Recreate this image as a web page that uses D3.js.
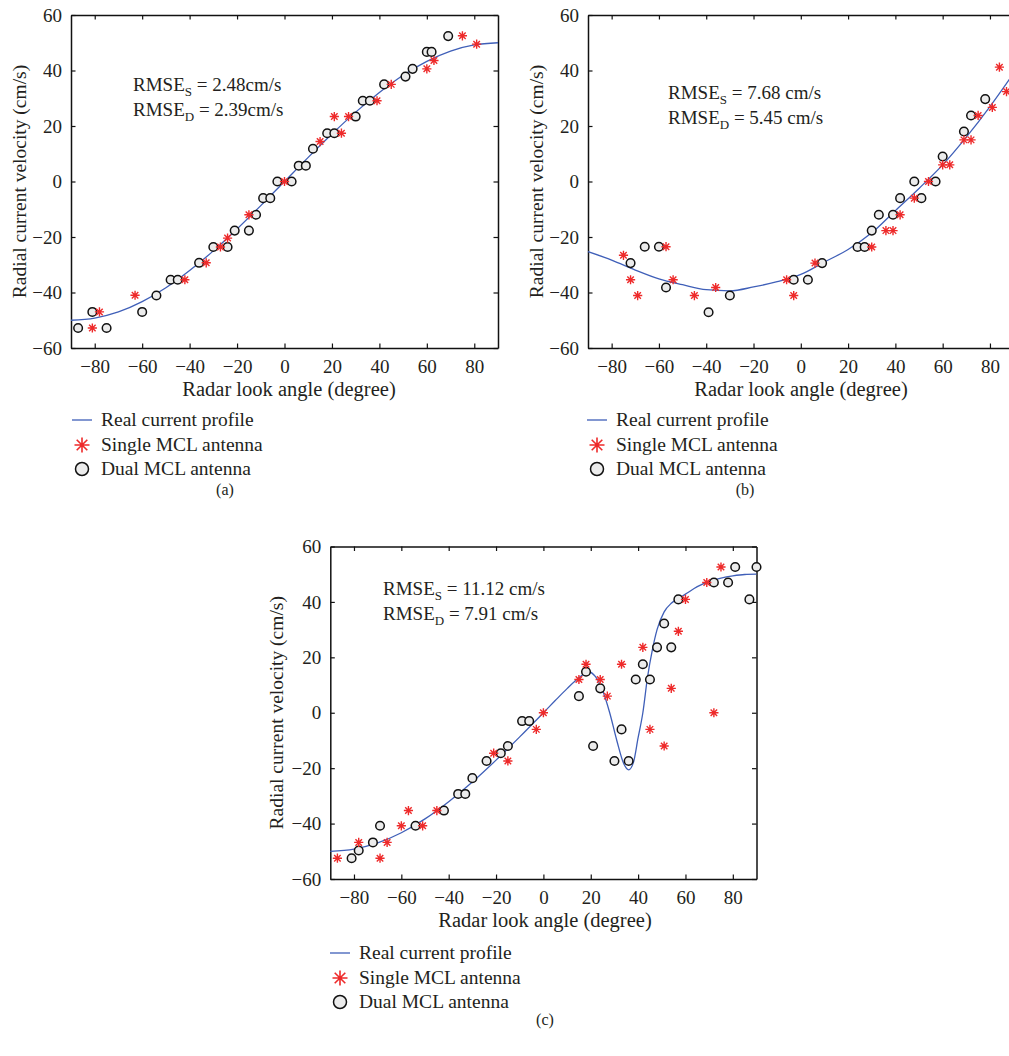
<!DOCTYPE html>
<html>
<head>
<meta charset="utf-8">
<script src="https://cdn.jsdelivr.net/npm/d3@7"></script>
<style>
  body { margin: 0; background: #fff; }
  svg text { font-family: "Liberation Serif", "Times New Roman", serif; fill: #231f20; }
</style>
</head>
<body>
<svg id="chart"></svg>
<script>
// Ejes comunes.
const angleTicks = [-80, -60, -40, -20, 0, 20, 40, 60, 80];
const velTicks = [-60, -40, -20, 0, 20, 40, 60];

const legendLabels = ["Real current profile", "Single MCL antenna", "Dual MCL antenna"];
const panelLabels = ["(a)", "(b)", "(c)"];
const rmseS = ["2.48cm/s", "7.68 cm/s", "11.12 cm/s"];
const rmseD = ["2.39cm/s", "5.45 cm/s", "7.91 cm/s"];

// Perfil real.
const curveAnglesAB = [-90, -80, -70, -60, -50, -40, -30, -20, -10, 0, 10, 20, 30, 40, 50, 60, 70, 80, 90];
const curveA = [-50, -49.2, -47, -43.3, -38.3, -32.1, -25, -17.1, -8.7, 0, 8.7, 17.1, 25, 32.1, 38.3, 43.3, 47, 49.2, 50];
const curveB = [-25.3, -28.3, -31.9, -35.1, -37.2, -39, -39.4, -38, -36.1, -33.5, -29, -24.5, -18.5, -10.5, -2.5, 6, 16, 27, 39];
const curveAnglesC = [-90, -80, -70, -60, -50, -40, -30, -20, -10, 0, 5, 10, 15, 19, 22, 25, 28, 31, 34, 36, 38, 40, 42, 44, 46, 48, 51, 54, 57, 60, 65, 70, 75, 80, 85, 90];
const curveC = [-50, -49.2, -47, -43.3, -38.3, -32.1, -25, -17.1, -8.7, 0, 4.4, 8.7, 12.6, 14.8, 13, 8, 0, -10, -18.5, -20.6, -18, -9, 0, 13, 22.6, 30, 36.4, 39.5, 41.2, 42.8, 45.5, 47.4, 48.6, 49.4, 49.9, 50];

// Mediciones [angulo, velocidad].
const singleA = [[-81, -52.8], [-78, -47], [-63, -41], [-42, -35.4], [-33, -29.3], [-27, -23.6], [-24, -20.4], [-15, -12], [0, 0], [15, 14.4], [21, 23.4], [24, 17.4], [27, 23.4], [39, 29.1], [45, 35], [60, 40.6], [63, 43.6], [75, 52.5], [81, 49.5]];
const dualA = [[-87, -52.8], [-81, -47], [-75, -52.8], [-60, -47], [-54, -41.1], [-48, -35.4], [-45, -35.4], [-36, -29.3], [-30, -23.6], [-24, -23.6], [-21, -17.7], [-15, -17.7], [-12, -12], [-9, -6], [-6, -6], [-3, 0], [3, 0], [6, 5.7], [9, 5.7], [12, 11.8], [18, 17.4], [21, 17.4], [30, 23.4], [33, 29.1], [36, 29.1], [42, 35], [51, 37.8], [54, 40.6], [60, 46.7], [62, 46.7], [69, 52.4]];

const singleB = [[-75, -26.6], [-72, -35.4], [-69, -41.1], [-57, -23.5], [-54, -35.4], [-45, -41.1], [-36, -38.2], [-6, -35.4], [-3, -41.1], [6, -29.4], [30, -23.6], [36, -17.7], [39, -17.7], [42, -12], [48, -6], [54, 0], [60, 6], [63, 6], [69, 15], [72, 15], [75, 23.8], [81, 26.7], [84, 41.2], [87, 32.4]];
const dualB = [[-72, -29.4], [-66, -23.5], [-60, -23.5], [-57, -38.2], [-39, -47.1], [-30, -41.1], [-3, -35.4], [3, -35.4], [9, -29.4], [24, -23.6], [27, -23.6], [30, -17.7], [33, -12], [39, -12], [42, -6], [48, 0], [51, -6], [57, 0], [60, 9], [69, 18], [72, 23.8], [78, 29.7]];

const singleC = [[-87, -52.5], [-78, -46.8], [-69, -52.5], [-66, -46.8], [-60, -40.8], [-57, -35.3], [-51, -40.8], [-45, -35.3], [-21, -14.6], [-15, -17.4], [-3, -6], [0, 0], [15, 12], [18, 17.5], [24, 12], [27, 6], [33, 17.5], [42, 23.6], [45, -6], [51, -12], [54, 8.8], [57, 29.4], [60, 40.9], [69, 47], [72, 0], [75, 52.6]];
const dualC = [[-81, -52.5], [-78, -49.7], [-72, -46.8], [-69, -40.8], [-54, -40.8], [-42, -35.3], [-36, -29.3], [-33, -29.3], [-30, -23.6], [-24, -17.4], [-18, -14.6], [-15, -12], [-9, -3], [-6, -3], [15, 6], [18, 14.8], [21, -12], [24, 8.8], [30, -17.4], [33, -6], [36, -17.4], [39, 12], [42, 17.5], [45, 12], [48, 23.6], [51, 32.2], [54, 23.6], [57, 40.9], [72, 47], [78, 47], [81, 52.6], [87, 40.9], [90, 52.6]];

// Configuracion.
const WIDTH = 1009, HEIGHT = 1056;
const FONT = 19;
const BLUE = "#3f5fb8";
const RED = "#ee2a2a";

const svg = d3.select("#chart").attr("width", WIDTH).attr("height", HEIGHT);

const panels = [
  { left: 71, right: 498, top: 15, bottom: 348, angles: curveAnglesAB, curve: curveA, single: singleA, dual: dualA,
    rmse: [133, 91], legend: [82, 420], tag: [225, 495], xLabelX: 289, yLabelX: 26 },
  { left: 588, right: 1013.6, top: 15, bottom: 348, angles: curveAnglesAB, curve: curveB, single: singleB, dual: dualB,
    rmse: [668, 99], legend: [597, 420], tag: [745, 495], xLabelX: 801, yLabelX: 543 },
  { left: 330.3, right: 756.5, top: 546.5, bottom: 879, angles: curveAnglesC, curve: curveC, single: singleC, dual: dualC,
    rmse: [383, 595], legend: [340, 953], tag: [545, 1025], xLabelX: 545, yLabelX: 283 }
];

const starPath = (s) => {
  const d = s * 0.7071;
  return `M${-s},0L${s},0M0,${-s}L0,${s}M${-d},${-d}L${d},${d}M${-d},${d}L${d},${-d}`;
};

const drawPanel = (p, i) => {
  const x = d3.scaleLinear().domain([-90, 90]).range([p.left, p.right]);
  const y = d3.scaleLinear().domain([-60, 60]).range([p.bottom, p.top]);
  const g = svg.append("g").attr("class", "panel");

  // Ejes con ticks hacia adentro.
  const styleAxis = (sel) => {
    sel.selectAll("path.domain").attr("stroke", "#111").attr("stroke-width", 1.5);
    sel.selectAll(".tick line").attr("stroke", "#111").attr("stroke-width", 1.2);
    sel.selectAll(".tick text").style("font-size", FONT + "px").attr("fill", "#231f20");
  };
  g.append("g").attr("transform", `translate(0,${p.bottom})`)
    .call(d3.axisBottom(x).tickValues(angleTicks).tickSizeInner(-4.5).tickSizeOuter(0).tickPadding(11.5))
    .call(styleAxis);
  g.append("g").attr("transform", `translate(0,${p.top})`)
    .call(d3.axisTop(x).tickValues(angleTicks).tickSizeInner(-4.5).tickSizeOuter(0).tickFormat(""))
    .call(styleAxis);
  g.append("g").attr("transform", `translate(${p.left},0)`)
    .call(d3.axisLeft(y).tickValues(velTicks).tickSizeInner(-4.5).tickSizeOuter(0).tickPadding(9))
    .call(styleAxis);
  g.append("g").attr("transform", `translate(${p.right},0)`)
    .call(d3.axisRight(y).tickValues(velTicks).tickSizeInner(-4.5).tickSizeOuter(0).tickFormat(""))
    .call(styleAxis);
  g.selectAll(".domain").attr("fill", "none");

  // Titulos de ejes.
  g.append("text")
    .attr("x", p.xLabelX)
    .attr("y", p.bottom + 48)
    .attr("text-anchor", "middle")
    .style("font-size", "20.5px")
    .text("Radar look angle (degree)");
  g.append("text")
    .attr("transform", `translate(${p.yLabelX},${(p.top + p.bottom) / 2}) rotate(-90)`)
    .attr("text-anchor", "middle")
    .style("font-size", "19.5px")
    .text("Radial current velocity (cm/s)");

  // Perfil real.
  const line = d3.line()
    .x((d, k) => x(p.angles[k]))
    .y((d) => y(d))
    .curve(d3.curveMonotoneX);
  g.append("path")
    .datum(p.curve)
    .attr("d", line)
    .attr("fill", "none")
    .attr("stroke", BLUE)
    .attr("stroke-width", 1.3);

  // Dual MCL.
  g.selectAll("circle.dual")
    .data(p.dual)
    .join("circle")
      .attr("class", "dual")
      .attr("cx", (d) => x(d[0]))
      .attr("cy", (d) => y(d[1]))
      .attr("r", 4.3)
      .attr("fill", "#ececec")
      .attr("stroke", "#111")
      .attr("stroke-width", 1.5);

  // Single MCL.
  g.selectAll("path.single")
    .data(p.single)
    .join("path")
      .attr("class", "single")
      .attr("transform", (d) => `translate(${x(d[0])},${y(d[1])})`)
      .attr("d", starPath(4.6))
      .attr("stroke", RED)
      .attr("stroke-width", 1.4);

  // RMSE.
  const rm = [["S", rmseS[i]], ["D", rmseD[i]]];
  rm.forEach((r, k) => {
    const t = g.append("text")
      .attr("x", p.rmse[0])
      .attr("y", p.rmse[1] + k * 25)
      .style("font-size", FONT + "px");
    t.append("tspan").text("RMSE");
    t.append("tspan").attr("dy", 5).style("font-size", "13px").text(r[0]);
    t.append("tspan").attr("dy", -5).text(" = " + r[1]);
  });

  // Leyenda.
  const [lx, ly] = p.legend;
  g.append("line")
    .attr("x1", lx - 10).attr("x2", lx + 10)
    .attr("y1", ly).attr("y2", ly)
    .attr("stroke", BLUE).attr("stroke-width", 1.3);
  g.append("path")
    .attr("transform", `translate(${lx},${ly + 25})`)
    .attr("d", starPath(7.5))
    .attr("stroke", RED).attr("stroke-width", 1.6);
  g.append("circle")
    .attr("cx", lx).attr("cy", ly + 49)
    .attr("r", 6.5)
    .attr("fill", "#ececec").attr("stroke", "#111").attr("stroke-width", 1.5);
  legendLabels.forEach((lab, k) => {
    g.append("text")
      .attr("x", lx + 19)
      .attr("y", ly + k * 24.5 + 6)
      .style("font-size", "19.5px")
      .text(lab);
  });

  g.append("text")
    .attr("x", p.tag[0]).attr("y", p.tag[1])
    .attr("text-anchor", "middle")
    .style("font-size", "16px")
    .text(panelLabels[i]);
};

panels.forEach(drawPanel);
</script>
</body>
</html>
